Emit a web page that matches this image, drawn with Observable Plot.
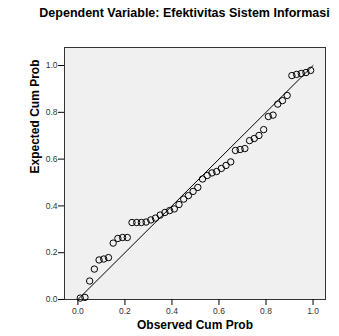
<!DOCTYPE html>
<html>
<head>
<meta charset="utf-8">
<script src="https://cdn.jsdelivr.net/npm/d3@7"></script>
<script src="https://cdn.jsdelivr.net/npm/@observablehq/plot@0.6"></script>
<style>
  html, body { margin: 0; padding: 0; background: #fff; }
  #title { box-sizing: border-box; height: 26px; padding-top: 6px; padding-left: 30px; line-height: 16px; text-align: center; font: bold 12.5px "Liberation Sans", Arial, sans-serif; color: #000; width: 339px; white-space: nowrap; }
  #chart svg { display: block; }
</style>
</head>
<body>
<div id="title"></div>
<div id="chart"></div>
<script>
const titleText = "Dependent Variable: Efektivitas Sistem Informasi";
const xTitle = "Observed Cum Prob";
const yTitle = "Expected Cum Prob";

const observed = [0.01,0.03,0.05,0.07,0.09,0.11,0.13,0.15,0.17,0.19,
                  0.21,0.23,0.25,0.27,0.29,0.31,0.33,0.35,0.37,0.39,
                  0.41,0.43,0.45,0.47,0.49,0.51,0.53,0.55,0.57,0.59,
                  0.61,0.63,0.65,0.67,0.69,0.71,0.73,0.75,0.77,0.79,
                  0.81,0.83,0.85,0.87,0.89,0.91,0.93,0.95,0.97,0.99];
const expected = [0.006,0.009,0.079,0.130,0.169,0.173,0.179,0.241,0.261,0.265,
                  0.265,0.329,0.329,0.329,0.331,0.340,0.348,0.361,0.372,0.380,
                  0.387,0.406,0.429,0.444,0.462,0.479,0.515,0.530,0.541,0.547,
                  0.560,0.573,0.588,0.637,0.641,0.645,0.679,0.688,0.701,0.726,
                  0.782,0.788,0.835,0.850,0.872,0.957,0.962,0.966,0.970,0.979];
const refLine = [0, 1];
const tickValues = [0, 0.2, 0.4, 0.6, 0.8, 1.0];
const tickLabels = ["0.0", "0.2", "0.4", "0.6", "0.8", "1.0"];

document.getElementById("title").textContent = titleText;

const points = observed.map((x, i) => ({x, y: expected[i]}));
const fmt = d => tickLabels[tickValues.indexOf(d)];

const chart = Plot.plot({
  width: 339,
  height: 310,
  marginTop: 21,
  marginBottom: 37,
  marginLeft: 64,
  marginRight: 14,
  style: {fontFamily: "'Liberation Sans', Arial, sans-serif", fontSize: "8.5px", color: "#333", background: "#fff"},
  x: {domain: [-0.057, 1.053]},
  y: {domain: [0, 1.077]},
  marks: [
    Plot.frame({fill: "#f0f0f0", stroke: "#333", strokeWidth: 1}),
    Plot.axisX(tickValues, {tickFormat: fmt, tickSize: 6, tickPadding: 2, stroke: "#000", label: null}),
    Plot.axisY(tickValues, {tickFormat: fmt, tickSize: 6, tickPadding: 1, stroke: "#000", label: null}),
    Plot.line(refLine.map(v => ({x: v, y: v})), {x: "x", y: "y", stroke: "#000", strokeWidth: 1}),
    Plot.dot(points, {x: "x", y: "y", r: 3.2, stroke: "#000", strokeWidth: 1, fill: "none"}),
    Plot.text([xTitle], {frameAnchor: "bottom", dy: 29, fontWeight: "bold", fontSize: 12, fill: "#000"}),
    Plot.text([yTitle], {frameAnchor: "left", dx: -29, rotate: -90, fontWeight: "bold", fontSize: 12, fill: "#000"})
  ]
});
document.getElementById("chart").appendChild(chart);
</script>
</body>
</html>
